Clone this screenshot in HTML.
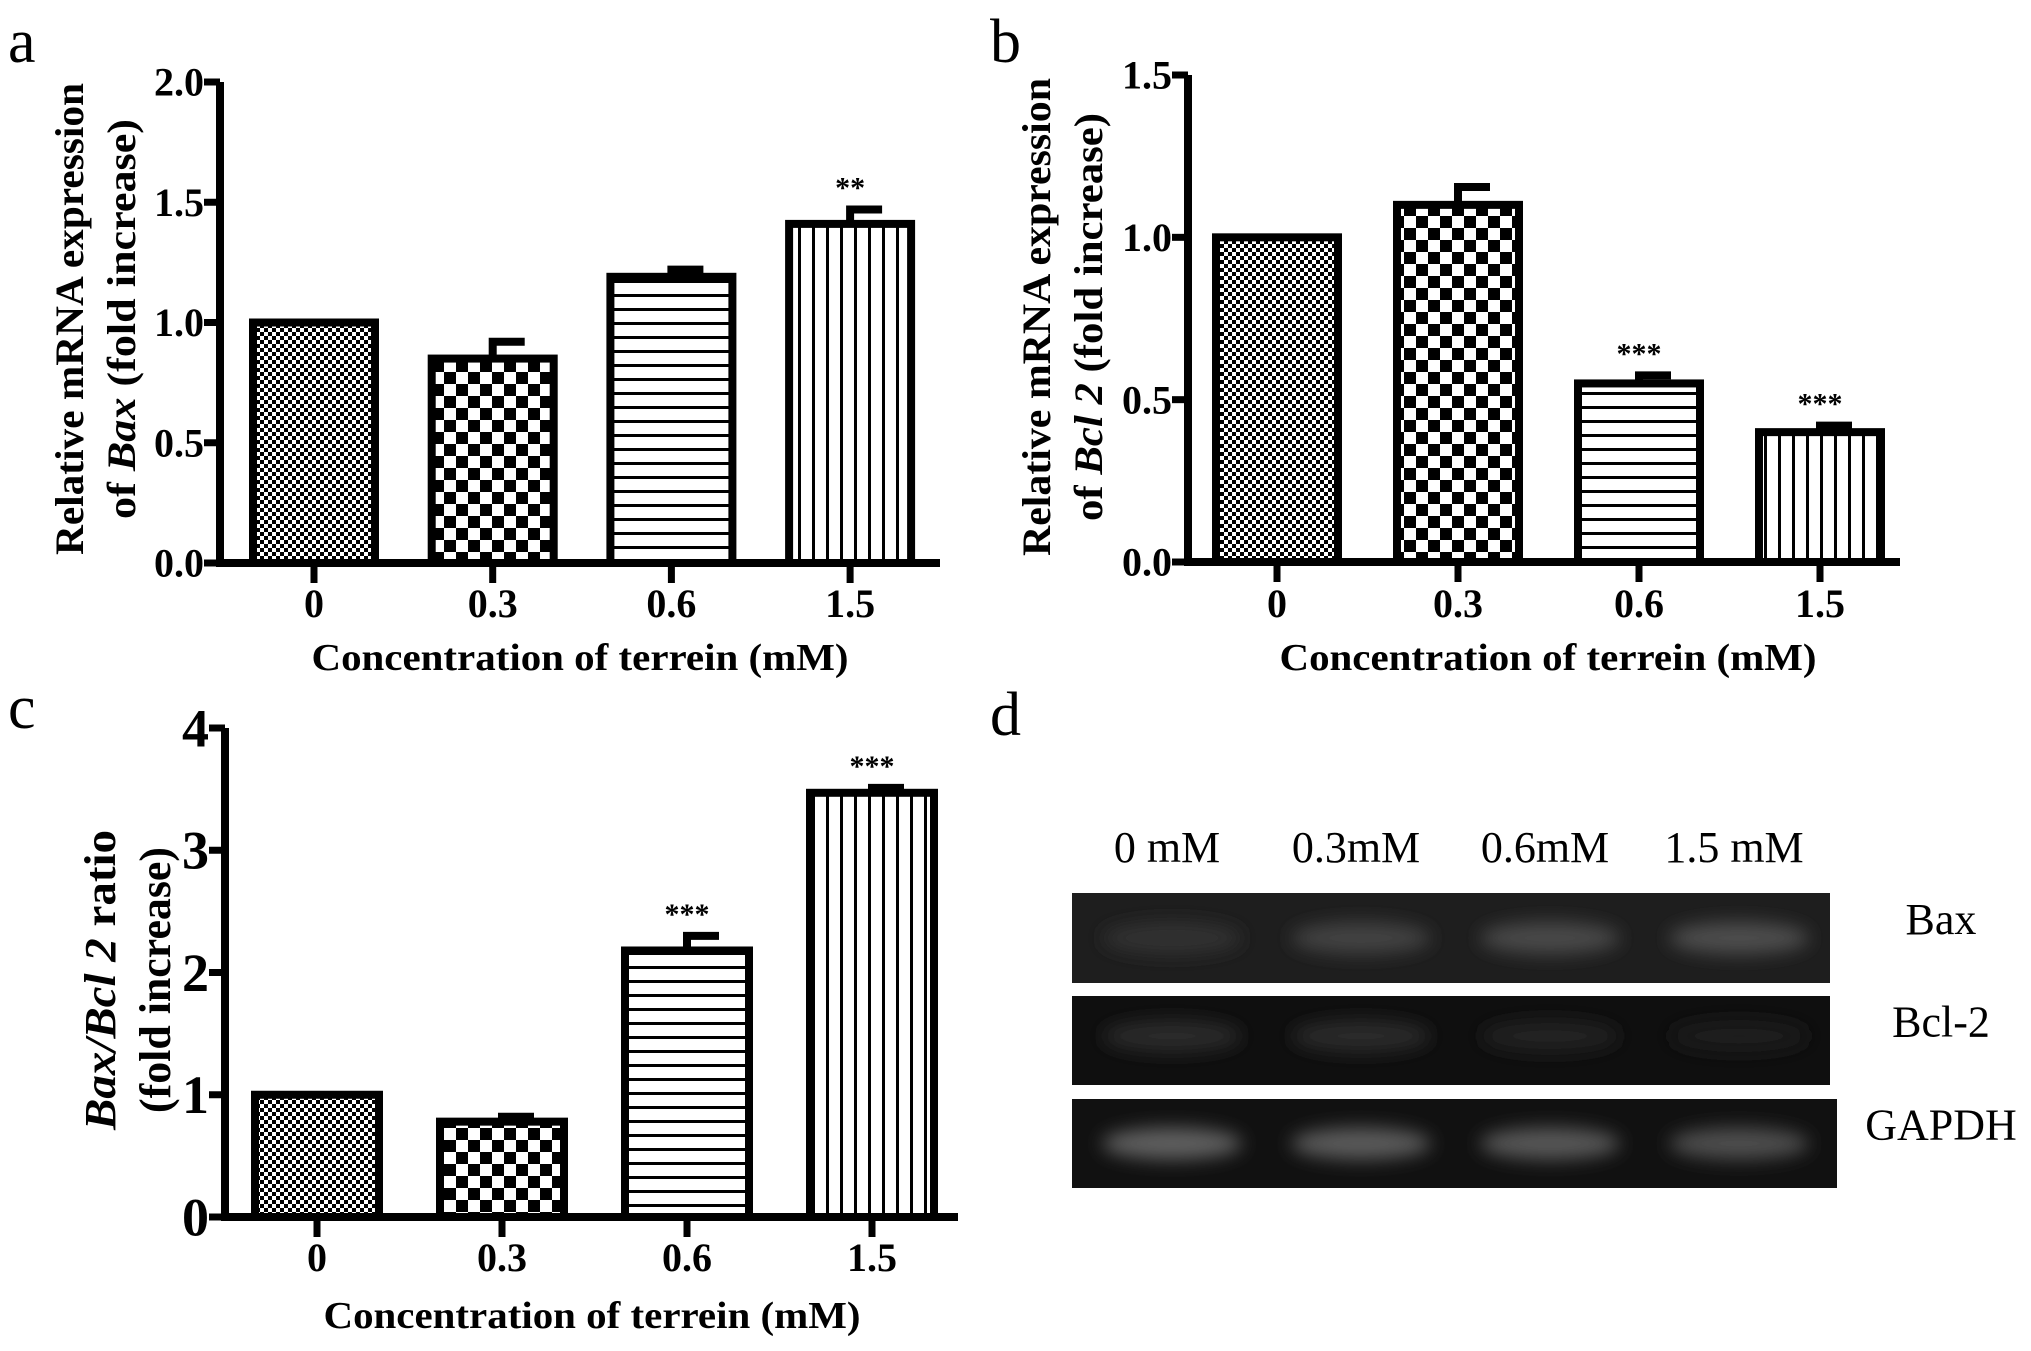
<!DOCTYPE html>
<html><head><meta charset="utf-8"><style>
html,body{margin:0;padding:0;background:#fff;}
svg{display:block;}
text{font-family:"Liberation Serif",serif;}
</style></head><body>
<svg id="fig" width="2031" height="1351" viewBox="0 0 2031 1351" xmlns="http://www.w3.org/2000/svg">
<defs>
<pattern id="p0" width="8" height="8" patternUnits="userSpaceOnUse"><rect width="8" height="8" fill="#fff"/><rect width="4" height="4" fill="#000"/><rect x="4" y="4" width="4" height="4" fill="#000"/></pattern>
<pattern id="p1" width="24" height="24" patternUnits="userSpaceOnUse"><rect width="24" height="24" fill="#fff"/><rect width="12" height="12" fill="#000"/><rect x="12" y="12" width="12" height="12" fill="#000"/></pattern>
<pattern id="p2" width="14" height="14" patternUnits="userSpaceOnUse"><rect width="14" height="14" fill="#fff"/><rect width="14" height="3" fill="#000"/></pattern>
<pattern id="p3" width="14" height="14" patternUnits="userSpaceOnUse"><rect width="14" height="14" fill="#fff"/><rect width="3" height="14" fill="#000"/></pattern>
<filter id="blur" x="-30%" y="-100%" width="160%" height="300%"><feGaussianBlur stdDeviation="9"/></filter>
</defs>
<g id="charts"></g>
<g id="gel"></g>
</svg>
<script>
const categories = ["0", "0.3", "0.6", "1.5"];
const aValues = [1.0, 0.85, 1.19, 1.41];
const aErrors = [0.0, 0.07, 0.03, 0.06];
const aStars = ["", "", "", "**"];
const aTicks = [0, 0.5, 1.0, 1.5, 2.0];
const aTickLabels = ["0.0", "0.5", "1.0", "1.5", "2.0"];
const bValues = [1.0, 1.10, 0.55, 0.40];
const bErrors = [0.0, 0.055, 0.025, 0.02];
const bStars = ["", "", "***", "***"];
const bTicks = [0, 0.5, 1.0, 1.5];
const bTickLabels = ["0.0", "0.5", "1.0", "1.5"];
const cValues = [1.0, 0.78, 2.18, 3.47];
const cErrors = [0.0, 0.04, 0.12, 0.04];
const cStars = ["", "", "***", "***"];
const cTicks = [0, 1, 2, 3, 4];
const cTickLabels = ["0", "1", "2", "3", "4"];
const gelLanes = ["0 mM", "0.3mM", "0.6mM", "1.5 mM"];
const gelBax = [0.25, 0.45, 0.55, 0.6];
const gelBcl = [0.18, 0.15, 0.03, 0.0];
const gelGapdh = [0.8, 0.75, 0.7, 0.6];

const NS = "http://www.w3.org/2000/svg";
function mk(tag, attrs, parent, txt) {
  const e = document.createElementNS(NS, tag);
  for (const k in attrs) e.setAttribute(k, attrs[k]);
  if (txt !== undefined) e.textContent = txt;
  parent.appendChild(e);
  return e;
}
const root = document.getElementById("charts");
const pats = ["url(#p0)", "url(#p1)", "url(#p2)", "url(#p3)"];

function panel(cfg, vals, errs, stars, ticks, tickLabels) {
  const g = mk("g", {}, root);
  
  
  const yMax = ticks[ticks.length - 1];
  const yScale = v => cfg.y0 - (v / yMax) * (cfg.y0 - cfg.yTop);
  const xScale = i => cfg.c0 + i * cfg.step;
  const lt = mk("text", {x: cfg.lx, y: cfg.ly, "font-size": 62}, g, cfg.letter);
  
  
  vals.forEach((v, i) => {
    const cx = xScale(i), top = yScale(v);
    if (errs[i] > 0) {
      const et = yScale(v + errs[i]);
      const eb = mk("path", {d: `M${cx} ${top} V${et} M${cx - 4} ${et} H${cx + 32}`, stroke: "#000", "stroke-width": 8, fill: "none"}, g);
      
      
    }
    const r = mk("rect", {x: cx - cfg.bw / 2, y: top, width: cfg.bw, height: cfg.y0 - top, fill: pats[i], stroke: "#000", "stroke-width": 8}, g);
    
    
    if (stars[i]) {
      const st = mk("text", {x: cx, y: yScale(v + errs[i]) - 12, "font-size": 30, "font-weight": "bold", "text-anchor": "middle"}, g, stars[i]);
      
      
    }
    const tk = mk("line", {x1: cx, x2: cx, y1: cfg.y0, y2: cfg.y0 + 20, stroke: "#000", "stroke-width": 7}, g);
    
    
    const tl = mk("text", {x: cx, y: cfg.tly, "font-size": 40, "font-weight": "bold", "text-anchor": "middle"}, g, categories[i]);
    
    
  });
  const ax = mk("path", {d: `M${cfg.ax} ${cfg.yTop} V${cfg.y0} H${cfg.xr}`, stroke: "#000", "stroke-width": 8, fill: "none"}, g);
  
  
  ticks.forEach((t, i) => {
    const y = yScale(t);
    const tm = mk("line", {x1: cfg.ax - 16, x2: cfg.ax, y1: y, y2: y, stroke: "#000", "stroke-width": 7}, g);
    
    
    const yl = mk("text", {x: cfg.ax - 16, y: y + cfg.tfs * 0.34, "font-size": cfg.tfs, "font-weight": "bold", "text-anchor": "end"}, g, tickLabels[i]);
    
    
  });
  const xt = mk("text", {x: cfg.tx, y: cfg.tty, "font-size": 38, "font-weight": "bold", "text-anchor": "middle", textLength: 537, lengthAdjust: "spacingAndGlyphs"}, g, "Concentration of terrein (mM)");
  
  
  const yt = mk("g", {transform: `translate(${cfg.yx},${cfg.yc}) rotate(-90)`}, g);
  
  
  cfg.ylines.forEach((ln, k) => {
    const t = mk("text", {x: 0, y: k * cfg.lsp, "font-size": cfg.yfs, "font-weight": "bold", "text-anchor": "middle", textLength: ln.len, lengthAdjust: "spacingAndGlyphs"}, yt);
    ln.parts.forEach(p => { mk("tspan", p[1] ? {"font-style": "italic"} : {}, t, p[0]); });
  });
}

panel({name: "chart-a-bax", letter: "a", lx: 8, ly: 62, ax: 220, y0: 563, yTop: 82, xr: 940, c0: 314, step: 178.7, bw: 122, tly: 617, tty: 670, tx: 580, yx: 83, yc: 319, lsp: 52, tfs: 40, yfs: 40,
  ylines: [{parts: [["Relative mRNA expression", 0]], len: 472}, {parts: [["of ", 0], ["Bax", 1], [" (fold increase)", 0]], len: 400}]},
  aValues, aErrors, aStars, aTicks, aTickLabels);
panel({name: "chart-b-bcl2", letter: "b", lx: 990, ly: 62, ax: 1188, y0: 562, yTop: 75, xr: 1900, c0: 1277, step: 181, bw: 122, tly: 617, tty: 670, tx: 1548, yx: 1050, yc: 317, lsp: 52, tfs: 40, yfs: 40,
  ylines: [{parts: [["Relative mRNA expression", 0]], len: 478}, {parts: [["of ", 0], ["Bcl 2", 1], [" (fold increase)", 0]], len: 408}]},
  bValues, bErrors, bStars, bTicks, bTickLabels);
panel({name: "chart-c-ratio", letter: "c", lx: 8, ly: 728, ax: 225, y0: 1217, yTop: 728, xr: 958, c0: 317, step: 185, bw: 124, tly: 1271, tty: 1328, tx: 592, yx: 115, yc: 980, lsp: 55, tfs: 54, yfs: 44,
  ylines: [{parts: [["Bax/Bcl 2", 1], [" ratio", 0]], len: 300}, {parts: [["(fold increase)", 0]], len: 266}]},
  cValues, cErrors, cStars, cTicks, cTickLabels);

// gel panel
const gel = document.getElementById("gel");
const dl = mk("text", {x: 990, y: 735, "font-size": 62}, gel, "d");


const laneX = i => 1167 + i * 189;
gelLanes.forEach((l, i) => {
  const t = mk("text", {x: laneX(i), y: 862, "font-size": 44, "text-anchor": "middle"}, gel, l);
  
  
});
const rows = [
  {name: "Bax", y: 893, h: 90, bg: "#1e1e1e", vals: gelBax, by: 0.5, x2: 1830},
  {name: "Bcl-2", y: 996, h: 89, bg: "#0f0f0f", vals: gelBcl, by: 0.45, x2: 1830},
  {name: "GAPDH", y: 1099, h: 89, bg: "#111", vals: gelGapdh, by: 0.5, x2: 1837}
];
rows.forEach(r => {
  const g = mk("g", {}, gel);
  
  
  mk("rect", {x: 1072, y: r.y, width: r.x2 - 1072, height: r.h, fill: r.bg}, g);
  r.vals.forEach((v, i) => {
    const c = Math.round(30 + v * 80);
    const b = mk("ellipse", {cx: laneX(i) + 5, cy: r.y + r.h * r.by, rx: 70, ry: 16, fill: `rgb(${c},${c},${c})`, filter: "url(#blur)"}, g);
    
    
  });
  const t = mk("text", {x: 1941, y: r.y + r.h / 2 - 4, "font-size": 44, "text-anchor": "middle"}, g, r.name);
  
  
});
</script>
</body></html>
